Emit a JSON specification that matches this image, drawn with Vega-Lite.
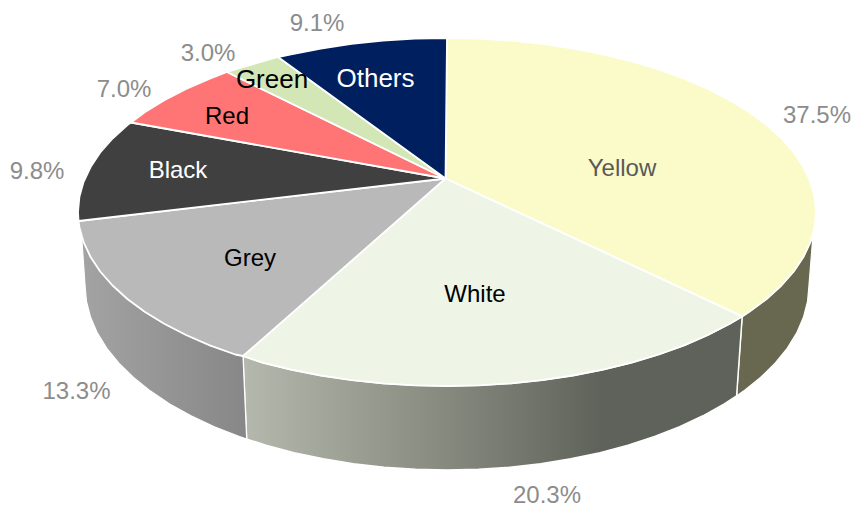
{
"$schema":"https://vega.github.io/schema/vega-lite/v6.json",
"width":852,"height":505,"padding":0,
"autosize":{"type":"none"},
"background":"white",
"config":{"view":{"stroke":null}},
"datasets":{
"walls":[
{"slice":"Yellow","seq":0,"x":813,"y":235},{"slice":"Yellow","seq":1,"x":810.4,"y":242.2},{"slice":"Yellow","seq":2,"x":803.4,"y":257},{"slice":"Yellow","seq":3,"x":793.8,"y":271.5},{"slice":"Yellow","seq":4,"x":781.4,"y":285.5},{"slice":"Yellow","seq":5,"x":766.6,"y":299},{"slice":"Yellow","seq":6,"x":749.3,"y":311.8},{"slice":"Yellow","seq":7,"x":742.2,"y":316.4},{"slice":"Yellow","seq":8,"x":736.6,"y":396},{"slice":"Yellow","seq":9,"x":743.5,"y":391.1},{"slice":"Yellow","seq":10,"x":760.5,"y":377.5},{"slice":"Yellow","seq":11,"x":775.1,"y":363.2},{"slice":"Yellow","seq":12,"x":787.2,"y":348.3},{"slice":"Yellow","seq":13,"x":796.7,"y":332.9},{"slice":"Yellow","seq":14,"x":803.5,"y":317.1},{"slice":"Yellow","seq":15,"x":807.6,"y":301.1},{"slice":"Yellow","seq":16,"x":809,"y":285},{"slice":"Yellow","seq":17,"x":813,"y":235},
{"slice":"White","seq":0,"x":742.2,"y":316.4},{"slice":"White","seq":1,"x":729.7,"y":323.8},{"slice":"White","seq":2,"x":707.9,"y":335},{"slice":"White","seq":3,"x":684.2,"y":345.3},{"slice":"White","seq":4,"x":658.7,"y":354.5},{"slice":"White","seq":5,"x":631.5,"y":362.7},{"slice":"White","seq":6,"x":602.9,"y":369.7},{"slice":"White","seq":7,"x":573.2,"y":375.5},{"slice":"White","seq":8,"x":542.5,"y":380.1},{"slice":"White","seq":9,"x":511.1,"y":383.4},{"slice":"White","seq":10,"x":479.2,"y":385.3},{"slice":"White","seq":11,"x":447,"y":386},{"slice":"White","seq":12,"x":414.8,"y":385.3},{"slice":"White","seq":13,"x":382.9,"y":383.4},{"slice":"White","seq":14,"x":351.5,"y":380.1},{"slice":"White","seq":15,"x":320.8,"y":375.5},{"slice":"White","seq":16,"x":291.1,"y":369.7},{"slice":"White","seq":17,"x":262.5,"y":362.7},{"slice":"White","seq":18,"x":243,"y":356},
{"slice":"White","seq":19,"x":246.7,"y":439.1},{"slice":"White","seq":20,"x":266,"y":445.2},{"slice":"White","seq":21,"x":294,"y":452.7},{"slice":"White","seq":22,"x":323.2,"y":458.8},{"slice":"White","seq":23,"x":353.3,"y":463.7},{"slice":"White","seq":24,"x":384.1,"y":467.2},{"slice":"White","seq":25,"x":415.4,"y":469.3},{"slice":"White","seq":26,"x":447,"y":470},{"slice":"White","seq":27,"x":478.6,"y":469.3},{"slice":"White","seq":28,"x":509.9,"y":467.2},{"slice":"White","seq":29,"x":540.7,"y":463.7},{"slice":"White","seq":30,"x":570.8,"y":458.8},{"slice":"White","seq":31,"x":600,"y":452.7},{"slice":"White","seq":32,"x":628,"y":445.2},{"slice":"White","seq":33,"x":654.6,"y":436.5},{"slice":"White","seq":34,"x":679.7,"y":426.7},{"slice":"White","seq":35,"x":703,"y":415.8},{"slice":"White","seq":36,"x":724.3,"y":403.9},{"slice":"White","seq":37,"x":736.6,"y":396},{"slice":"White","seq":38,"x":742.2,"y":316.4},
{"slice":"Grey","seq":0,"x":243,"y":356},{"slice":"Grey","seq":1,"x":235.3,"y":354.5},{"slice":"Grey","seq":2,"x":209.8,"y":345.3},{"slice":"Grey","seq":3,"x":186.1,"y":335},{"slice":"Grey","seq":4,"x":164.3,"y":323.8},{"slice":"Grey","seq":5,"x":144.7,"y":311.8},{"slice":"Grey","seq":6,"x":127.4,"y":299},{"slice":"Grey","seq":7,"x":112.6,"y":285.5},{"slice":"Grey","seq":8,"x":100.2,"y":271.5},{"slice":"Grey","seq":9,"x":90.6,"y":257},{"slice":"Grey","seq":10,"x":81.6,"y":236},{"slice":"Grey","seq":11,"x":85,"y":285},{"slice":"Grey","seq":12,"x":86.4,"y":301.1},{"slice":"Grey","seq":13,"x":90.5,"y":317.1},{"slice":"Grey","seq":14,"x":97.3,"y":332.9},{"slice":"Grey","seq":15,"x":106.8,"y":348.3},{"slice":"Grey","seq":16,"x":118.9,"y":363.2},{"slice":"Grey","seq":17,"x":133.5,"y":377.5},{"slice":"Grey","seq":18,"x":150.5,"y":391.1},{"slice":"Grey","seq":19,"x":169.7,"y":403.9},{"slice":"Grey","seq":20,"x":191,"y":415.8},{"slice":"Grey","seq":21,"x":214.3,"y":426.7},{"slice":"Grey","seq":22,"x":239.4,"y":436.5},{"slice":"Grey","seq":23,"x":246.7,"y":439.1},{"slice":"Grey","seq":24,"x":243,"y":356}
],
"tops":[
{"slice":"Yellow","seq":0,"x":445.5,"y":178.5},{"slice":"Yellow","seq":1,"x":447,"y":38},{"slice":"Yellow","seq":2,"x":479.2,"y":38.7},{"slice":"Yellow","seq":3,"x":511.1,"y":40.6},{"slice":"Yellow","seq":4,"x":542.5,"y":43.9},{"slice":"Yellow","seq":5,"x":573.2,"y":48.5},{"slice":"Yellow","seq":6,"x":602.9,"y":54.3},{"slice":"Yellow","seq":7,"x":631.5,"y":61.3},{"slice":"Yellow","seq":8,"x":658.7,"y":69.5},{"slice":"Yellow","seq":9,"x":684.2,"y":78.7},{"slice":"Yellow","seq":10,"x":707.9,"y":89},{"slice":"Yellow","seq":11,"x":729.7,"y":100.2},{"slice":"Yellow","seq":12,"x":749.3,"y":112.2},{"slice":"Yellow","seq":13,"x":766.6,"y":125},{"slice":"Yellow","seq":14,"x":781.4,"y":138.5},{"slice":"Yellow","seq":15,"x":793.8,"y":152.5},{"slice":"Yellow","seq":16,"x":803.4,"y":167},{"slice":"Yellow","seq":17,"x":810.4,"y":181.8},{"slice":"Yellow","seq":18,"x":814.6,"y":196.8},{"slice":"Yellow","seq":19,"x":816,"y":212},{"slice":"Yellow","seq":20,"x":814.6,"y":227.2},{"slice":"Yellow","seq":21,"x":810.4,"y":242.2},{"slice":"Yellow","seq":22,"x":803.4,"y":257},{"slice":"Yellow","seq":23,"x":793.8,"y":271.5},{"slice":"Yellow","seq":24,"x":781.4,"y":285.5},{"slice":"Yellow","seq":25,"x":766.6,"y":299},{"slice":"Yellow","seq":26,"x":749.3,"y":311.8},{"slice":"Yellow","seq":27,"x":742.2,"y":316.4},{"slice":"Yellow","seq":28,"x":445.5,"y":178.5},
{"slice":"White","seq":0,"x":445.5,"y":178.5},{"slice":"White","seq":1,"x":742.2,"y":316.4},{"slice":"White","seq":2,"x":729.7,"y":323.8},{"slice":"White","seq":3,"x":707.9,"y":335},{"slice":"White","seq":4,"x":684.2,"y":345.3},{"slice":"White","seq":5,"x":658.7,"y":354.5},{"slice":"White","seq":6,"x":631.5,"y":362.7},{"slice":"White","seq":7,"x":602.9,"y":369.7},{"slice":"White","seq":8,"x":573.2,"y":375.5},{"slice":"White","seq":9,"x":542.5,"y":380.1},{"slice":"White","seq":10,"x":511.1,"y":383.4},{"slice":"White","seq":11,"x":479.2,"y":385.3},{"slice":"White","seq":12,"x":447,"y":386},{"slice":"White","seq":13,"x":414.8,"y":385.3},{"slice":"White","seq":14,"x":382.9,"y":383.4},{"slice":"White","seq":15,"x":351.5,"y":380.1},{"slice":"White","seq":16,"x":320.8,"y":375.5},{"slice":"White","seq":17,"x":291.1,"y":369.7},{"slice":"White","seq":18,"x":262.5,"y":362.7},{"slice":"White","seq":19,"x":243,"y":356},{"slice":"White","seq":20,"x":445.5,"y":178.5},
{"slice":"Grey","seq":0,"x":445.5,"y":178.5},{"slice":"Grey","seq":1,"x":243,"y":356},{"slice":"Grey","seq":2,"x":235.3,"y":354.5},{"slice":"Grey","seq":3,"x":209.8,"y":345.3},{"slice":"Grey","seq":4,"x":186.1,"y":335},{"slice":"Grey","seq":5,"x":164.3,"y":323.8},{"slice":"Grey","seq":6,"x":144.7,"y":311.8},{"slice":"Grey","seq":7,"x":127.4,"y":299},{"slice":"Grey","seq":8,"x":112.6,"y":285.5},{"slice":"Grey","seq":9,"x":100.2,"y":271.5},{"slice":"Grey","seq":10,"x":90.6,"y":257},{"slice":"Grey","seq":11,"x":83.6,"y":242.2},{"slice":"Grey","seq":12,"x":79.4,"y":227.2},{"slice":"Grey","seq":13,"x":78.5,"y":221},{"slice":"Grey","seq":14,"x":445.5,"y":178.5},
{"slice":"Black","seq":0,"x":445.5,"y":178.5},{"slice":"Black","seq":1,"x":78.5,"y":221},{"slice":"Black","seq":2,"x":78,"y":212},{"slice":"Black","seq":3,"x":79.4,"y":196.8},{"slice":"Black","seq":4,"x":83.6,"y":181.8},{"slice":"Black","seq":5,"x":90.6,"y":167},{"slice":"Black","seq":6,"x":100.2,"y":152.5},{"slice":"Black","seq":7,"x":112.6,"y":138.5},{"slice":"Black","seq":8,"x":127.4,"y":125},{"slice":"Black","seq":9,"x":131,"y":122.5},{"slice":"Black","seq":10,"x":445.5,"y":178.5},
{"slice":"Red","seq":0,"x":445.5,"y":178.5},{"slice":"Red","seq":1,"x":131,"y":122.5},{"slice":"Red","seq":2,"x":144.7,"y":112.2},{"slice":"Red","seq":3,"x":164.3,"y":100.2},{"slice":"Red","seq":4,"x":186.1,"y":89},{"slice":"Red","seq":5,"x":209.8,"y":78.7},{"slice":"Red","seq":6,"x":227,"y":72},{"slice":"Red","seq":7,"x":445.5,"y":178.5},
{"slice":"Green","seq":0,"x":445.5,"y":178.5},{"slice":"Green","seq":1,"x":227,"y":72},{"slice":"Green","seq":2,"x":235.3,"y":69.5},{"slice":"Green","seq":3,"x":262.5,"y":61.3},{"slice":"Green","seq":4,"x":278,"y":57},{"slice":"Green","seq":5,"x":445.5,"y":178.5},
{"slice":"Others","seq":0,"x":445.5,"y":178.5},{"slice":"Others","seq":1,"x":278,"y":57},{"slice":"Others","seq":2,"x":291.1,"y":54.3},{"slice":"Others","seq":3,"x":320.8,"y":48.5},{"slice":"Others","seq":4,"x":351.5,"y":43.9},{"slice":"Others","seq":5,"x":382.9,"y":40.6},{"slice":"Others","seq":6,"x":414.8,"y":38.7},{"slice":"Others","seq":7,"x":447,"y":38},{"slice":"Others","seq":8,"x":445.5,"y":178.5}
],
"names":[
{"slice":"Yellow","x":622,"y":167},{"slice":"White","x":475,"y":293},{"slice":"Grey","x":250,"y":257},{"slice":"Black","x":178,"y":169},{"slice":"Red","x":227,"y":115}
],
"namesLarge":[
{"slice":"Green","x":272,"y":78},{"slice":"Others","x":375.5,"y":77}
],
"shares":[
{"slice":"Yellow","share":"37.5%","x":817,"y":114},{"slice":"White","share":"20.3%","x":547,"y":494},{"slice":"Grey","share":"13.3%","x":76.5,"y":390},{"slice":"Black","share":"9.8%","x":37,"y":170},{"slice":"Red","share":"7.0%","x":124,"y":88},{"slice":"Green","share":"3.0%","x":208,"y":52},{"slice":"Others","share":"9.1%","x":317,"y":22}
]
},
"encoding":{
"x":{"field":"x","type":"quantitative","axis":null,"scale":{"domain":[0,852],"zero":false,"nice":false}},
"y":{"field":"y","type":"quantitative","axis":null,"scale":{"domain":[505,0],"zero":false,"nice":false}}
},
"layer":[
{"data":{"name":"walls"},"transform":[{"filter":"datum.slice === 'Yellow'"}],
 "mark":{"type":"line","filled":true,"stroke":"#ffffff","strokeWidth":1.2,"fill":"#68674F"},
 "encoding":{"order":{"field":"seq","type":"quantitative"}}},
{"data":{"name":"walls"},"transform":[{"filter":"datum.slice === 'White'"}],
 "mark":{"type":"line","filled":true,"stroke":"#ffffff","strokeWidth":1.5,
  "fill":{"gradient":"linear","x1":0,"x2":1,"y1":0,"y2":0,"stops":[{"offset":0,"color":"#B5B8AC"},{"offset":0.4,"color":"#878A7F"},{"offset":0.72,"color":"#5F625A"},{"offset":1,"color":"#5F625A"}]}},
 "encoding":{"order":{"field":"seq","type":"quantitative"}}},
{"data":{"name":"walls"},"transform":[{"filter":"datum.slice === 'Grey'"}],
 "mark":{"type":"line","filled":true,"stroke":"#ffffff","strokeWidth":1.2,
  "fill":{"gradient":"linear","x1":0,"x2":1,"y1":0,"y2":0,"stops":[{"offset":0,"color":"#A3A3A3"},{"offset":1,"color":"#878787"}]}},
 "encoding":{"order":{"field":"seq","type":"quantitative"}}},
{"data":{"name":"tops"},
 "mark":{"type":"line","filled":true,"stroke":"#ffffff","strokeWidth":1.8,"strokeJoin":"round"},
 "encoding":{
  "order":{"field":"seq","type":"quantitative"},
  "fill":{"field":"slice","type":"nominal","legend":null,
   "scale":{"domain":["Yellow","White","Grey","Black","Red","Green","Others"],"range":["#FAFBC8","#EEF5E6","#B9B9B9","#404040","#FF7575","#D3E6B5","#001F5F"]}}}},
{"data":{"name":"names"},
 "mark":{"type":"text","font":"Liberation Sans","fontSize":24,"align":"center","baseline":"middle","dy":1.5},
 "encoding":{"text":{"field":"slice"},
  "color":{"field":"slice","type":"nominal","legend":null,
   "scale":{"domain":["Yellow","White","Grey","Black","Red","Green","Others"],"range":["#595959","#000000","#000000","#FFFFFF","#000000","#000000","#FFFFFF"]}}}},
{"data":{"name":"namesLarge"},
 "mark":{"type":"text","font":"Liberation Sans","fontSize":26,"align":"center","baseline":"middle","dy":1.5},
 "encoding":{"text":{"field":"slice"},
  "color":{"field":"slice","type":"nominal","legend":null,
   "scale":{"domain":["Yellow","White","Grey","Black","Red","Green","Others"],"range":["#595959","#000000","#000000","#FFFFFF","#000000","#000000","#FFFFFF"]}}}},
{"data":{"name":"shares"},
 "mark":{"type":"text","font":"Liberation Sans","fontSize":24,"align":"center","baseline":"middle","dy":1.5,"color":"#8C8C8C"},
 "encoding":{"text":{"field":"share"}}}
]
}
